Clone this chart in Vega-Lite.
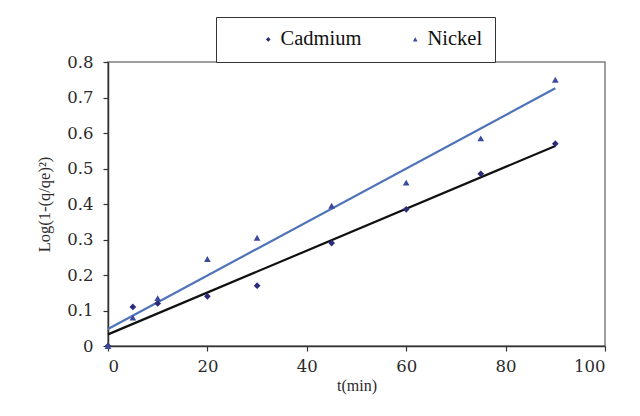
{
  "$schema": "https://vega.github.io/schema/vega-lite/v6.json",
  "width": 497,
  "height": 284,
  "autosize": "none",
  "padding": {"left": 108, "top": 62, "right": 35, "bottom": 70},
  "background": "white",
  "config": {
    "font": "Liberation Serif",
    "view": {"stroke": "#7f7f7f", "strokeWidth": 1.5}
  },
  "data": {
    "values": [
      {"t": 0, "v": 0, "metal": "Cadmium"},
      {"t": 5, "v": 0.11, "metal": "Cadmium"},
      {"t": 10, "v": 0.12, "metal": "Cadmium"},
      {"t": 20, "v": 0.14, "metal": "Cadmium"},
      {"t": 30, "v": 0.17, "metal": "Cadmium"},
      {"t": 45, "v": 0.29, "metal": "Cadmium"},
      {"t": 60, "v": 0.385, "metal": "Cadmium"},
      {"t": 75, "v": 0.485, "metal": "Cadmium"},
      {"t": 90, "v": 0.57, "metal": "Cadmium"},
      {"t": 0, "v": 0, "metal": "Nickel"},
      {"t": 5, "v": 0.08, "metal": "Nickel"},
      {"t": 10, "v": 0.135, "metal": "Nickel"},
      {"t": 20, "v": 0.245, "metal": "Nickel"},
      {"t": 30, "v": 0.305, "metal": "Nickel"},
      {"t": 45, "v": 0.395, "metal": "Nickel"},
      {"t": 60, "v": 0.46, "metal": "Nickel"},
      {"t": 75, "v": 0.585, "metal": "Nickel"},
      {"t": 90, "v": 0.75, "metal": "Nickel"}
    ]
  },
  "encoding": {
    "x": {"field": "t", "type": "quantitative", "scale": {"domain": [0, 100]}, "axis": {"title": "t(min)", "grid": false, "values": [0, 20, 40, 60, 80, 100], "tickSize": 5, "labelPadding": 7, "titlePadding": 3, "labelFont": "DejaVu Serif", "titleFont": "Liberation Serif", "labelFontSize": 16.5, "titleFontSize": 16, "titleFontWeight": "normal", "labelColor": "#2a2a2a", "titleColor": "#2a2a2a", "domainColor": "#333", "tickColor": "#333", "domainWidth": 1.5, "tickWidth": 1.2, "labelOverlap": false}},
    "y": {"field": "v", "type": "quantitative", "scale": {"domain": [0, 0.8]}, "axis": {"title": "Log(1-(q/qe)²)", "grid": false, "values": [0, 0.1, 0.2, 0.3, 0.4, 0.5, 0.6, 0.7, 0.8], "format": "~g", "tickSize": 5, "labelPadding": 10, "titlePadding": 14, "labelFont": "DejaVu Serif", "titleFont": "Liberation Serif", "labelFontSize": 16.5, "titleFontSize": 16.5, "titleFontWeight": "normal", "labelColor": "#2a2a2a", "titleColor": "#2a2a2a", "domainColor": "#333", "tickColor": "#333", "domainWidth": 1.5, "tickWidth": 1.2, "labelOverlap": false}}
  },
  "layer": [
    {
      "transform": [{"filter": "datum.metal === 'Cadmium'"}, {"regression": "v", "on": "t"}],
      "mark": {"type": "line", "color": "#111111", "strokeWidth": 2.2}
    },
    {
      "transform": [{"filter": "datum.metal === 'Nickel'"}, {"regression": "v", "on": "t"}],
      "mark": {"type": "line", "color": "#4f73b8", "strokeWidth": 2.2}
    },
    {
      "mark": {"type": "point", "filled": true, "opacity": 1, "size": 45},
      "encoding": {
        "color": {"field": "metal", "type": "nominal", "scale": {"domain": ["Cadmium", "Nickel"], "range": ["#2a2c7a", "#3b4a9c"]}, "legend": {"title": null, "orient": "none", "legendX": 108, "legendY": -45, "direction": "horizontal", "strokeColor": "#333", "fillColor": "white", "padding": 12, "labelFont": "Liberation Serif", "labelFontSize": 20.5, "labelColor": "#111", "symbolSize": 22, "columnPadding": 13, "symbolOffset": 30, "labelOffset": 2}},
        "shape": {"field": "metal", "type": "nominal", "scale": {"domain": ["Cadmium", "Nickel"], "range": ["diamond", "triangle-up"]}, "legend": null}
      }
    }
  ]
}
